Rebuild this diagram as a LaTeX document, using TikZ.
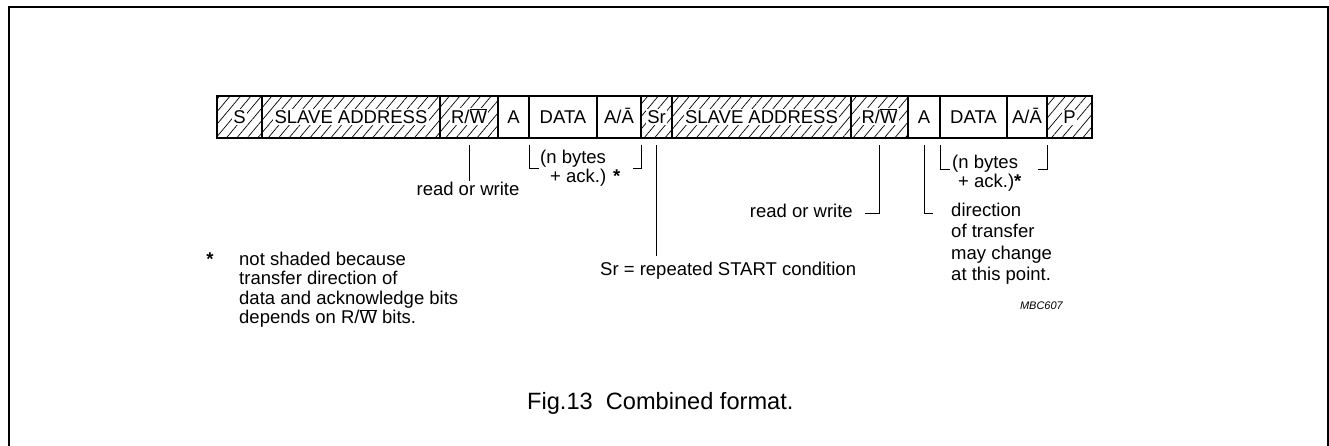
\documentclass[tikz,border=0pt]{standalone}
\usepackage{fontspec}
\setmainfont{Liberation Sans}
\usetikzlibrary{positioning,patterns.meta}

\newcommand{\whitebox}[1]{{\setlength{\fboxsep}{1.5pt}\colorbox{white}{#1}}}
\newcommand{\barW}{$\overline{\hbox{W}}$}

\begin{document}
\begin{tikzpicture}[x=1pt, y=-1pt,
font=\fontsize{18.5}{21.5}\selectfont,
node distance=0pt,
fieldnode/.style={rectangle, draw, line width=1.3pt, minimum height=42pt, inner sep=0pt, outer sep=0pt, text height=15pt, text depth=1.5pt},
hatchednode/.style={fieldnode, pattern={Lines[angle=50, distance=8pt, line width=0.7pt]}},
textnode/.style={inner sep=0pt},
connector/.style={line width=0.9pt},
]
\useasboundingbox (0,0) rectangle (1329,445);

%Frame
\draw[line width=2pt] (9.3,450) -- (9.3,7) -- (1328,7) -- (1328,450);

%Fields
\node[hatchednode, minimum width=45pt, anchor=north west] (s) at (217,96) {\whitebox{S}};
\node[hatchednode, minimum width=178pt, right=of s]       (slave1) {\whitebox{SLAVE ADDRESS}};
\node[hatchednode, minimum width=58pt, right=of slave1]   (rw1)    {\whitebox{R/\barW}};
\node[fieldnode,   minimum width=31pt, right=of rw1]      (a1)     {A};
\node[fieldnode,   minimum width=68pt, right=of a1]       (data1)  {DATA};
\node[fieldnode,   minimum width=44pt, right=of data1]    (aa1)    {A/Ā};
\node[hatchednode, minimum width=31pt, right=of aa1]      (sr)     {\whitebox{Sr}};
\node[hatchednode, minimum width=179pt, right=of sr]      (slave2) {\whitebox{SLAVE ADDRESS}};
\node[hatchednode, minimum width=57pt, right=of slave2]   (rw2)    {\whitebox{R/\barW}};
\node[fieldnode,   minimum width=32pt, right=of rw2]      (a2)     {A};
\node[fieldnode,   minimum width=67pt, right=of a2]       (data2)  {DATA};
\node[fieldnode,   minimum width=40pt, right=of data2]    (aa2)    {A/Ā};
\node[hatchednode, minimum width=45pt, right=of aa2]      (p)      {\whitebox{P}};

%Labels
\node[textnode, anchor=base] (rdwr1) at (468,195) {read or write};
\node[textnode, anchor=north west, align=left, font=\fontsize{18.5}{19}\selectfont] (bytes1) at (540,149.5) {(n bytes\\\hspace*{10pt}+ ack.) \textbf{*}};
\node[textnode, anchor=north west, align=left, font=\fontsize{18.5}{19}\selectfont] (bytes2) at (952,154.5) {(n bytes\\\hspace*{6pt}+ ack.)\textbf{*}};
\node[textnode, inner ysep=5pt, anchor=base west] (srcond) at (600,275) {Sr = repeated START condition};
\node[textnode, anchor=base east] (rdwr2) at (853,217) {read or write};
\node[textnode, anchor=north west, align=left] (dir) at (951,202.75) {direction\\of transfer\\may change\\at this point.};
\node[textnode, anchor=base] (star) at (210,265) {\textbf{*}};
\node[textnode, anchor=north west, align=left, font=\fontsize{18.5}{19.5}\selectfont] (note) at (239,251.75) {not shaded because\\transfer direction of\\data and acknowledge bits\\depends on R/\barW{} bits.};
\node[textnode, anchor=base east, font=\fontsize{11}{13}\selectfont\itshape] (code) at (1063,309) {MBC607};
\node[textnode, anchor=base west, font=\fontsize{23.6}{28}\selectfont] (caption) at (527,409) {Fig.13~~Combined format.};

\coordinate (rwturn)  at (865,213);
\coordinate (dirturn) at (933,213);

%Lines
\draw[connector] (rw1.south) ++(0,7) -- (rw1.south |- rdwr1.north);
\draw[connector] (data1.south west) ++(0,7) |- ++(10,23);
\draw[connector] (aa1.south east) ++(0,7) |- ++(-8,23);
\draw[connector] (sr.south) ++(0,7) -- (sr.south |- srcond.north);
\draw[connector] (rw2.south) ++(0,7) |- (rwturn);
\draw[connector] (a2.south) ++(0,7) |- (dirturn);
\draw[connector] (data2.south west) ++(0,7) |- ++(10,24);
\draw[connector] (aa2.south east) ++(0,7) |- ++(-9,24);
\end{tikzpicture}
\end{document}
